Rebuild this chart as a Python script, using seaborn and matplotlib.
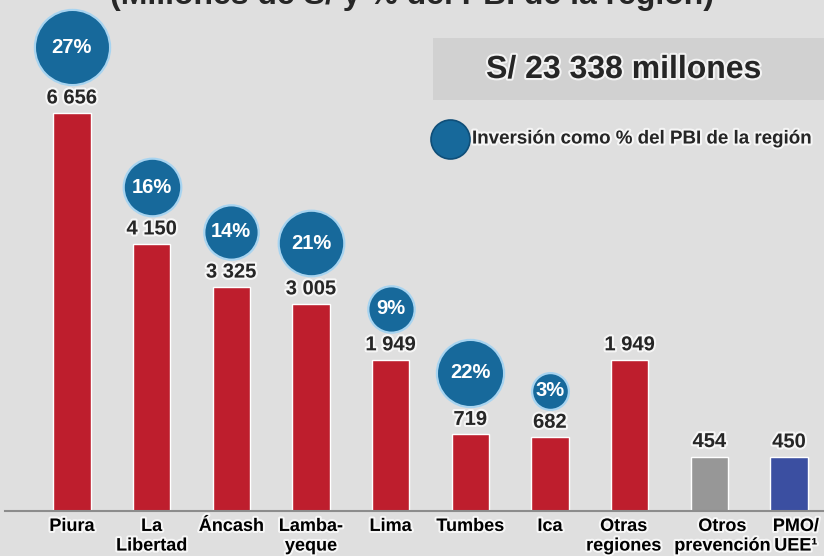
import numpy as np
import matplotlib
matplotlib.use('Agg')
import matplotlib.pyplot as plt
import matplotlib.patheffects as pe
from matplotlib.patches import Rectangle
from matplotlib.transforms import offset_copy, ScaledTranslation
import seaborn as sns


sns.set_theme(style='white')
plt.rcParams['font.family'] = ['Liberation Sans', 'DejaVu Sans']

# Datos (millones de S/ y % del PBI regional)
regiones = ['Piura', 'La\nLibertad', 'Áncash', 'Lamba-\nyeque', 'Lima', 'Tumbes',
            'Ica', 'Otras\nregiones', 'Otros\nprevención', 'PMO/\nUEE¹']
montos = [6656, 4150, 3325, 3005, 1949, 719, 682, 1949, 454, 450]
pct_pbi = [27, 16, 14, 21, 9, 22, 3]          # solo las 7 primeras regiones
colores = ['#BE1E2D'] * 8 + ['#979797', '#3B4FA1']

total = 'S/ 23 338 millones'
titulo = '(Millones de S/ y % del PBI de la región)'
leyenda = 'Inversión como % del PBI de la región'

fondo = '#DFDFDF'
azul = '#17699B'
halo = [pe.withStroke(linewidth=3, foreground='white', alpha=0.75)]


# el gráfico original no es proporcional: las barras parten de una base elevada
def fwd(v):
    v = np.asarray(v, dtype=float)
    return np.where(v > 0, v + 960 * (1 - np.exp(-np.clip(v, 0, None) / 480)), v)


_grid = np.linspace(0, 30000, 30001)
_fgrid = fwd(_grid)


def inv(y):
    y = np.asarray(y, dtype=float)
    return np.where(y > 0, np.interp(y, _fgrid, _grid), y)


fig = plt.figure(figsize=(8.24, 5.56), dpi=100, facecolor=fondo)
ax = fig.add_axes([5 / 824, 45 / 556, 819 / 824, 511 / 556])
ax.set_facecolor(fondo)

sns.barplot(x=regiones, y=montos, hue=regiones, palette=colores, legend=False,
            width=0.47, saturation=1, ax=ax)

ax.set_yscale('function', functions=(fwd, inv))
ax.set_ylim(0, float(inv(fwd(montos[0]) * 511 / 398)))
ax.set_xlim(-0.84, 9.44)

for s in ['top', 'right', 'left']:
    ax.spines[s].set_visible(False)
ax.spines['bottom'].set_color('#8C8C8C')
ax.spines['bottom'].set_linewidth(1.5)
ax.set_yticks([])
ax.set_ylabel('')
ax.tick_params(axis='x', length=0, pad=5)
desplaz = {7: -6, 8: 13, 9: 7}
for i, lbl in enumerate(ax.get_xticklabels()):
    lbl.set_fontweight('bold')
    lbl.set_fontsize(13)
    lbl.set_color('black')
    lbl.set_path_effects(halo)
    if i in desplaz:
        lbl.set_transform(lbl.get_transform() + ScaledTranslation(desplaz[i] / 100, 0, fig.dpi_scale_trans))

# etiquetas de valores
for i, v in enumerate(montos):
    ax.annotate(f'{v:,}'.replace(',', ' '), (i, v), xytext=(0, 4), textcoords='offset points',
                ha='center', va='bottom', fontsize=14.5, fontweight='bold', path_effects=halo)

# burbujas con % del PBI
for i, p in enumerate(pct_pbi):
    d_px = 32 + 1.6 * p
    off = (28 + d_px / 2) * 0.72
    tr = offset_copy(ax.transData, fig=fig, x=0, y=off, units='points')
    ax.scatter([i], [montos[i]], s=(d_px * 0.72) ** 2, color=azul, edgecolor='#A8D4F0',
               linewidth=1.6, transform=tr, clip_on=False, zorder=4)
    ax.text(i, montos[i], f'{p}%', transform=tr, ha='center', va='center', color='white',
            fontsize=14.5, fontweight='bold', zorder=5)

# caja del total
fig.patches.append(Rectangle((433 / 824, 1 - 100 / 556), 1 - 433 / 824, 62 / 556,
                             transform=fig.transFigure, facecolor='#D1D1D1', edgecolor='none'))
fig.text(0.757, 1 - 70 / 556, total, ha='center', va='center', fontsize=23,
         fontweight='bold', path_effects=halo)

# leyenda
fig.text(472 / 824, 1 - 139 / 556, leyenda, ha='left', va='center', fontsize=13.5,
         fontweight='bold', path_effects=halo)
ax.scatter([450 / 824], [1 - 139 / 556], s=(39 * 0.72) ** 2, color=azul, edgecolor='#0F4E78',
           linewidth=1.2, transform=fig.transFigure, clip_on=False, zorder=4)

# título (recortado en la parte superior, como en el original)
fig.text(0.5, 1 - 4 / 556, titulo, ha='center', va='baseline', fontsize=23, fontweight='bold')

plt.savefig('out.png', dpi=100, facecolor=fondo)
